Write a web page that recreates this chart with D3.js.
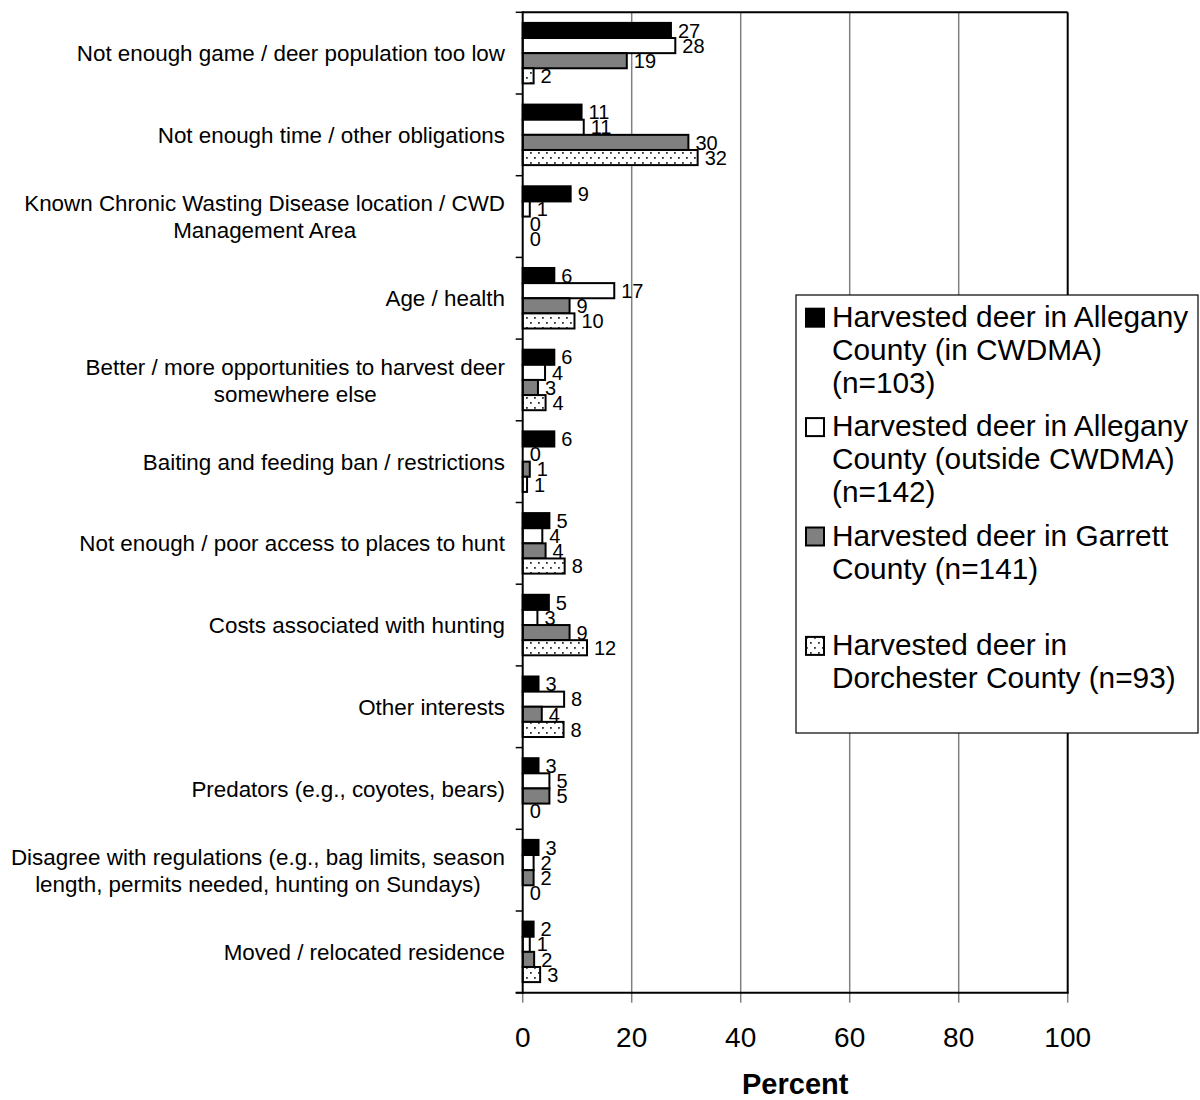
<!DOCTYPE html>
<html>
<head>
<meta charset="utf-8">
<script src="https://cdn.jsdelivr.net/npm/d3@7"></script>
<style>
  body { margin: 0; background: #fff; }
  svg { display: block; font-family: "Liberation Sans", Arial, sans-serif; }
</style>
</head>
<body>
<svg id="chart" width="1200" height="1100"></svg>
<script>
// ---------- data ----------
const categories = [
  ["Not enough game / deer population too low"],
  ["Not enough time / other obligations"],
  ["Known Chronic Wasting Disease location / CWD", "Management Area"],
  ["Age / health"],
  ["Better / more opportunities to harvest deer", "somewhere else"],
  ["Baiting and feeding ban / restrictions"],
  ["Not enough / poor access to places to hunt"],
  ["Costs associated with hunting"],
  ["Other interests"],
  ["Predators (e.g., coyotes, bears)"],
  ["Disagree with regulations (e.g., bag limits, season", "length, permits needed, hunting on Sundays)"],
  ["Moved / relocated residence"]
];
const seriesNames = [
  ["Harvested deer in Allegany", "County (in CWDMA)", "(n=103)"],
  ["Harvested deer in Allegany", "County (outside CWDMA)", "(n=142)"],
  ["Harvested deer in Garrett", "County (n=141)"],
  ["Harvested deer in", "Dorchester County (n=93)"]
];
const alleganyIn      = [27.2, 10.8, 8.8, 5.8, 5.8, 5.8, 4.9, 4.8, 2.9, 2.9, 2.9, 2.0];
const alleganyOutside = [28.0, 11.2, 1.3, 16.8, 4.1, 0, 3.6, 2.7, 7.6, 4.9, 2.0, 1.3];
const garrett         = [19.1, 30.4, 0, 8.6, 2.8, 1.3, 4.2, 8.6, 3.5, 4.9, 2.0, 2.1];
const dorchester      = [2.0, 32.1, 0, 9.5, 4.2, 0.8, 7.7, 11.8, 7.5, 0, 0, 3.2];
const seriesValues = [alleganyIn, alleganyOutside, garrett, dorchester];
const xTicks = [0, 20, 40, 60, 80, 100];
const xTitle = "Percent";

// ---------- layout ----------
(function () {
const svg = d3.select("#chart");
const pLeft = 522.7, pRight = 1067.7, pTop = 12.3, pBottom = 992.7;
const fills = ["#000000", "#ffffff", "#808080", "url(#dots)"];

const defs = svg.append("defs");
const pat = defs.append("pattern").attr("id", "dots")
  .attr("patternUnits", "userSpaceOnUse").attr("width", 8).attr("height", 10);
pat.append("rect").attr("width", 8).attr("height", 10).attr("fill", "#fff");
pat.append("rect").attr("x", 2).attr("y", 2).attr("width", 1.8).attr("height", 1.8).attr("fill", "#333");
pat.append("rect").attr("x", 6).attr("y", 7).attr("width", 1.8).attr("height", 1.8).attr("fill", "#333");

const x = d3.scaleLinear().domain([0, 100]).range([pLeft, pRight]);
const y = d3.scaleBand().domain(d3.range(categories.length)).range([pTop, pBottom]).paddingInner(0).paddingOuter(0);
const yInner = d3.scaleBand().domain(d3.range(4)).range([0, y.bandwidth()]).paddingInner(0).paddingOuter(0.7);

// gridlines
svg.append("g").selectAll("line").data(xTicks.filter(t => t > 0 && t < 100)).join("line")
  .attr("x1", d => x(d)).attr("x2", d => x(d)).attr("y1", pTop).attr("y2", pBottom)
  .attr("stroke", "#808080").attr("stroke-width", 1.5);

// x ticks (below axis)
svg.append("g").selectAll("line").data(xTicks).join("line")
  .attr("x1", d => x(d)).attr("x2", d => x(d)).attr("y1", pBottom).attr("y2", pBottom + 10)
  .attr("stroke", "#808080").attr("stroke-width", 1.5);

// x tick labels
svg.append("g").selectAll("text").data(xTicks).join("text")
  .attr("x", d => x(d)).attr("y", 1046.5).attr("text-anchor", "middle")
  .attr("font-size", 28).attr("fill", "#000").text(d => d);

// bars
const bars = svg.append("g");
categories.forEach((c, i) => {
  seriesValues.forEach((vals, s) => {
    const v = vals[i];
    const by = y(i) + yInner(s);
    if (v > 0) {
      bars.append("rect")
        .attr("x", x(0)).attr("y", by)
        .attr("width", x(v) - x(0)).attr("height", yInner.bandwidth())
        .attr("fill", fills[s]).attr("stroke", "#000").attr("stroke-width", 2);
    }
  });
});
// value labels
const labs = svg.append("g");
categories.forEach((c, i) => {
  seriesValues.forEach((vals, s) => {
    const v = vals[i];
    labs.append("text")
      .attr("x", x(v) + 7).attr("y", y(i) + yInner(s) + yInner.bandwidth() / 2)
      .attr("dy", "0.36em").attr("font-size", 20).attr("fill", "#000")
      .text(Math.round(v));
  });
});

// plot frame: top & right black, axis lines
svg.append("line").attr("x1", pLeft).attr("x2", pRight).attr("y1", pTop).attr("y2", pTop).attr("stroke", "#000").attr("stroke-width", 2);
svg.append("line").attr("x1", pRight).attr("x2", pRight).attr("y1", pTop).attr("y2", pBottom).attr("stroke", "#000").attr("stroke-width", 2);
svg.append("line").attr("x1", pLeft).attr("x2", pLeft).attr("y1", pTop - 1).attr("y2", pBottom + 1).attr("stroke", "#000").attr("stroke-width", 2);
svg.append("line").attr("x1", pLeft - 7).attr("x2", pRight + 1).attr("y1", pBottom).attr("y2", pBottom).attr("stroke", "#000").attr("stroke-width", 2);

// y ticks at band boundaries
const bounds = d3.range(categories.length + 1).map(i => pTop + i * y.step());
svg.append("g").selectAll("line").data(bounds).join("line")
  .attr("x1", pLeft - 7).attr("x2", pLeft).attr("y1", d => d).attr("y2", d => d)
  .attr("stroke", "#000").attr("stroke-width", 1.5);

// category labels (right-aligned block, lines centered)
const labelRight = 505, lineH = 27;
const catG = svg.append("g");
categories.forEach((lines, i) => {
  const cy = y(i) + y.bandwidth() / 2;
  const t = catG.append("text").attr("font-size", 22.4).attr("fill", "#000").attr("text-anchor", "middle");
  const spans = lines.map((ln, k) => t.append("tspan")
    .attr("y", cy + (k - (lines.length - 1) / 2) * lineH).attr("dy", "0.36em").text(ln));
  const maxW = d3.max(spans.map(sp => sp.node().getComputedTextLength()));
  spans.forEach(sp => sp.attr("x", labelRight - maxW / 2));
});

// axis title
svg.append("text").attr("x", (pLeft + pRight) / 2).attr("y", 1094).attr("text-anchor", "middle")
  .attr("font-size", 29).attr("font-weight", "bold").attr("fill", "#000").text(xTitle);

// legend
const lg = svg.append("g");
lg.append("rect").attr("x", 796).attr("y", 295).attr("width", 402).attr("height", 438)
  .attr("fill", "#fff").attr("stroke", "#000").attr("stroke-width", 1.2);
const firstBase = 326.7, entryStep = 109.4, legLine = 33;
seriesNames.forEach((lines, s) => {
  const base = firstBase + s * entryStep;
  lg.append("rect").attr("x", 806).attr("y", base - 18).attr("width", 18).attr("height", 18)
    .attr("fill", fills[s]).attr("stroke", "#000").attr("stroke-width", 2);
  const t = lg.append("text").attr("font-size", 29.8).attr("fill", "#000");
  lines.forEach((ln, k) => t.append("tspan").attr("x", 832).attr("y", base + k * legLine).text(ln));
});
})();
</script>
</body>
</html>
